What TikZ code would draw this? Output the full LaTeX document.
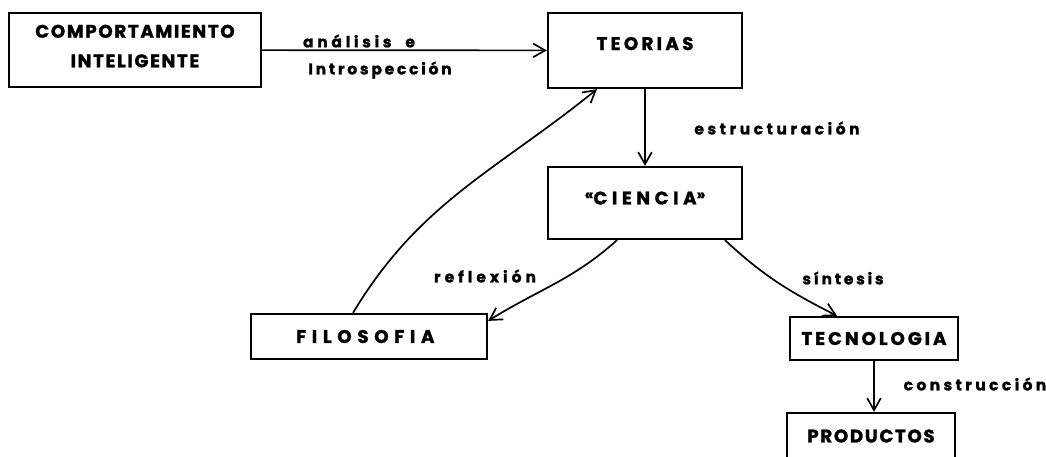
\documentclass[tikz,border=0pt]{standalone}
\usepackage{fontspec}
\setmainfont{Poppins}[BoldFeatures={FakeBold=1.4}]
\usetikzlibrary{arrows.meta,calc}

\begin{document}
\begin{tikzpicture}[x=0.025cm, y=-0.025cm,
  box/.style={draw, line width=1.6pt, inner sep=0pt, font=\bfseries\fontsize{13}{21}\selectfont\addfontfeature{LetterSpace=#1}},
  box/.default=8,
  lab/.style={inner sep=0pt, font=\bfseries\fontsize{11}{13}\selectfont\addfontfeature{LetterSpace=#1}},
  lab/.default=18,
  arr/.style={line width=1.2pt, -{Straight Barb[length=3mm,width=3.4mm]}}]
	\useasboundingbox (0,0) rectangle (1046,456);
	\node[box=9, minimum width=6.3cm, minimum height=1.85cm, align=center, text depth=0.2cm] (comp) at (135,50) {COMPORTAMIENTO\\INTELIGENTE};
	\node[box=18, minimum width=4.85cm, minimum height=1.875cm, text depth=0.35cm] (teorias) at (645,50.5) {TEORIAS};
	\node[box=25, minimum width=4.85cm, minimum height=1.8cm, text depth=0.25cm] (ciencia) at (645,203) {\raisebox{0.25em}{\fontsize{11}{11}\selectfont«}CIENCIA\raisebox{0.25em}{\fontsize{11}{11}\selectfont»}};
	\node[box=31, minimum width=5.9cm, minimum height=1.125cm] (filo) at (369,336.5) {\hspace{-0.4em}FILOSOFIA};
	\node[box=16, minimum width=4.2cm, minimum height=1.075cm] (tecno) at (874,338.5) {TECNOLOGIA};
	\node[box=9, minimum width=4.2cm, minimum height=1.15cm] (prod) at (871,436) {PRODUCTOS};
	\node[lab=24] (analisis) at (359,41) {análisis\hspace{0.9em}e};
	\node[lab] (intro) at (380,70) {Introspección};
	\node[lab=23] (estr) at (777,128) {estructuración};
	\node[lab=26] (refl) at (485,276) {reflexión};
	\node[lab] (sint) at (843,278) {síntesis};
	\node[lab=22] (cons) at (975,384) {construcción};
	\draw[arr] (comp) -- (teorias);
	\draw[arr] (teorias) -- (ciencia);
	\draw[arr] ($(filo.north)+(-16,0)$) to[out=59, in=219] ($(teorias.south)+(-48,0)$);
	\draw[arr] ($(ciencia.south)+(-28,0)$) to[out=222, in=32] ($(filo.north east)+(0,8)$);
	\draw[arr] ($(ciencia.south)+(80,0)$) to[out=-43, in=153] ($(tecno.north)+(-37,0)$);
	\draw[arr] (tecno) -- (tecno |- prod.north);
\end{tikzpicture}
\end{document}
